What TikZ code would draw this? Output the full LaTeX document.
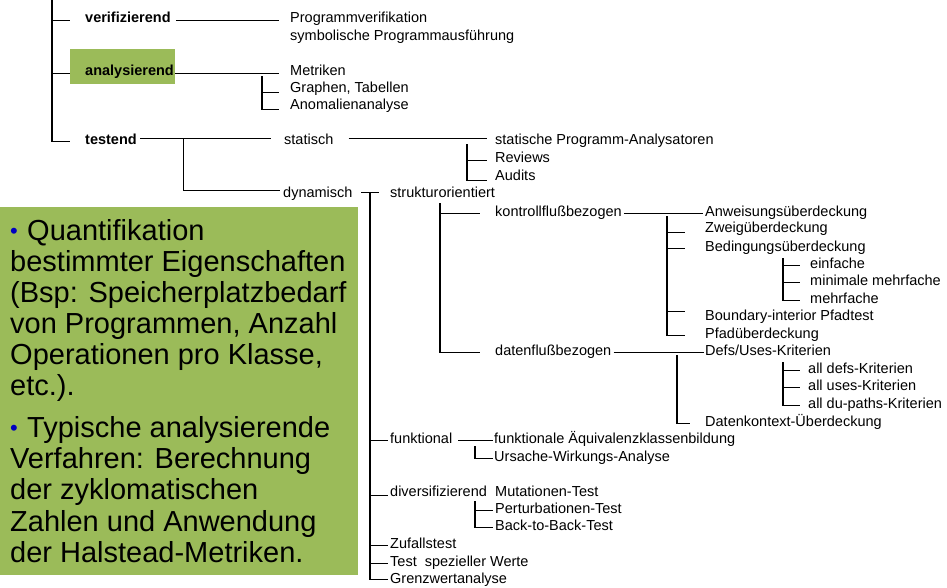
\documentclass[tikz,border=0pt]{standalone}
\usepackage{fontspec}
\setmainfont{Liberation Sans}[Ligatures=CommonOff]
\definecolor{boxgreen}{RGB}{155,187,89}
\definecolor{bulblue}{RGB}{0,0,192}
\newcommand\lblfont{\fontsize{14.5}{17}\selectfont}
\newcommand\bigfont{\fontsize{29}{31.2}\selectfont}
\newcommand\bul{\makebox[17pt][l]{\raisebox{1.5pt}{\color{bulblue}\fontsize{22}{22}\selectfont •}}}
\begin{document}
\begin{tikzpicture}[x=1pt,y=-1pt,
  lbl/.style={font=\lblfont, inner sep=0pt, anchor=base west},
  blbl/.style={lbl, font=\lblfont\bfseries},
  big/.style={font=\bigfont, inner sep=0pt, anchor=base west},
  conn/.style={line width=1.3pt, line cap=butt},
  hl/.style={fill=boxgreen, draw=none, inner sep=0pt, anchor=north west}]
\useasboundingbox (0,0) rectangle (947,588);
\fill[white] (0,0) rectangle (947,588);
% green highlight boxes
\node[hl, minimum width=358pt, minimum height=368pt] (gbox) at (0,207) {};
\node[hl, minimum width=105pt, minimum height=35pt] (abox) at (70,49) {};
% text of the green box
\node[big] (g1) at (10,240) {\bul Quantifikation};
\node[big] (g2) at (10,271) {bestimmter Eigenschaften};
\node[big] (g3) at (10,302) {(Bsp: Speicherplatzbedarf};
\node[big] (g4) at (10,333) {von Programmen, Anzahl};
\node[big] (g5) at (10,364) {Operationen pro Klasse,};
\node[big] (g6) at (10,395) {etc.).};
\node[big] (g7) at (10,437) {\bul Typische analysierende};
\node[big] (g8) at (10,468) {Verfahren: Berechnung};
\node[big] (g9) at (10,499) {der zyklomatischen};
\node[big] (g10) at (10,531) {Zahlen und Anwendung};
\node[big] (g11) at (10,562) {der Halstead-Metriken.};
% level 1
\node[blbl] (verif) at (85,23) {verifizierend};
\node[blbl] (analys) at (85,76) {analysierend};
\node[blbl] (testend) at (85,145) {testend};
% level 2
\node[lbl] (progv) at (290,23) {Programmverifikation};
\node[lbl] (symb) at (290,41) {symbolische Programmausführung};
\node[lbl] (metr) at (290,76) {Metriken};
\node[lbl] (graph) at (290,93) {Graphen, Tabellen};
\node[lbl] (anom) at (290,110) {Anomalienanalyse};
\node[lbl] (stat) at (284,145) {statisch};
\node[lbl] (dyn) at (283,197) {dynamisch};
% statisch children
\node[lbl] (spa) at (495,145) {statische Programm-Analysatoren};
\node[lbl] (rev) at (495,163) {Reviews};
\node[lbl] (aud) at (495,181) {Audits};
% dynamisch children
\node[lbl] (struk) at (390,197) {strukturorientiert};
\node[lbl] (kon) at (495,216) {kontrollflußbezogen};
\node[lbl] (dat) at (495,355) {datenflußbezogen};
\node[lbl] (anw) at (705,216) {Anweisungsüberdeckung};
\node[lbl] (zw) at (705,233) {Zweigüberdeckung};
\node[lbl] (bed) at (705,251) {Bedingungsüberdeckung};
\node[lbl] (einf) at (810,268) {einfache};
\node[lbl] (minm) at (810,285) {minimale mehrfache};
\node[lbl] (mehr) at (810,303) {mehrfache};
\node[lbl] (bound) at (705,320) {Boundary-interior Pfadtest};
\node[lbl] (pfad) at (705,338) {Pfadüberdeckung};
\node[lbl] (defs) at (705,355) {Defs/Uses-Kriterien};
\node[lbl] (alld) at (808,373) {all defs-Kriterien};
\node[lbl] (allu) at (808,390) {all uses-Kriterien};
\node[lbl] (alldu) at (808,408) {all du-paths-Kriterien};
\node[lbl] (dk) at (705,426) {Datenkontext-Überdeckung};
\node[lbl] (funk) at (390,443) {funktional};
\node[lbl] (faq) at (494,443) {funktionale Äquivalenzklassenbildung};
\node[lbl] (urs) at (494,461) {Ursache-Wirkungs-Analyse};
\node[lbl] (div) at (390,496) {diversifizierend};
\node[lbl] (mut) at (495,496) {Mutationen-Test};
\node[lbl] (pert) at (495,513) {Perturbationen-Test};
\node[lbl] (b2b) at (495,530) {Back-to-Back-Test};
\node[lbl] (zuf) at (390,548) {Zufallstest};
\node[lbl] (tsw) at (390,566) {Test\ \ spezieller Werte};
\node[lbl] (grenz) at (390,583) {Grenzwertanalyse};
% ---- connectors ----
\coordinate (trunktop) at (52,0);
\draw[conn] (trunktop) |- ([xshift=-15pt,yshift=1pt]testend.mid west);
\draw[conn] ([xshift=-33pt]verif.mid west) -- ([xshift=-15pt]verif.mid west);
\draw[conn] ([xshift=-33pt]analys.mid west) -- ([xshift=-15pt]analys.mid west);
% verifizierend
\draw[conn] ([xshift=5pt]verif.mid east) -- ([xshift=-11pt]progv.mid west);
% analysierend
\draw[conn] ([xshift=1pt]analys.mid east) -- ([xshift=-11pt]metr.mid west);
\draw[conn] ([xshift=-28pt,yshift=-3pt]metr.mid west) |- ([xshift=-11pt,yshift=-2pt]anom.mid west);
\draw[conn] ([xshift=-28pt,yshift=-2pt]graph.mid west) -- ([xshift=-11pt,yshift=-2pt]graph.mid west);
% testend
\draw[conn] ([xshift=3.5pt,yshift=4pt]testend.mid east) -- ([xshift=-13pt,yshift=4pt]stat.mid west);
\draw[conn] ([xshift=46.5pt,yshift=4pt]testend.mid east) |- ([xshift=-3pt,yshift=4pt]dyn.mid west);
% statisch
\draw[conn] ([xshift=15pt,yshift=4pt]stat.mid east) -- ([xshift=-8pt,yshift=4pt]spa.mid west);
\draw[conn] ([xshift=-28pt,yshift=-2pt]spa.mid west) |- ([xshift=-8pt,yshift=-2pt]aud.mid west);
\draw[conn] ([xshift=-28pt]rev.mid west) -- ([xshift=-8pt]rev.mid west);
% dynamisch
\draw[conn] ([xshift=8.5pt,yshift=2pt]dyn.mid east) -- ([xshift=-11pt,yshift=2pt]struk.mid west);
\draw[conn] ([xshift=-20pt,yshift=2pt]struk.mid west) |- ([xshift=-2pt,yshift=1pt]grenz.mid west);
% strukturorientiert
\draw[conn] ([xshift=50pt,yshift=-9pt]struk.mid west) |- ([xshift=-15pt]dat.mid west);
\draw[conn] ([xshift=-55pt]kon.mid west) -- ([xshift=-15pt]kon.mid west);
% kontrollflussbezogen
\draw[conn] ([xshift=2pt]kon.mid east) -- ([xshift=-2pt]anw.mid west);
\draw[conn] ([xshift=-38pt,yshift=-3pt]anw.mid west) |- ([xshift=-20pt]pfad.mid west);
\draw[conn] ([xshift=-38pt,yshift=-2pt]zw.mid west) -- ([xshift=-20pt,yshift=-2pt]zw.mid west);
\draw[conn] ([xshift=-38pt]bed.mid west) -- ([xshift=-20pt]bed.mid west);
\draw[conn] ([xshift=-38pt,yshift=6pt]bound.mid west) -- ([xshift=-20pt,yshift=6pt]bound.mid west);
% Bedingungsueberdeckung
\draw[conn] ([xshift=-27pt,yshift=7pt]einf.mid west) |- ([xshift=-10pt]mehr.mid west);
\draw[conn] ([xshift=-27pt]einf.mid west) -- ([xshift=-10pt]einf.mid west);
\draw[conn] ([xshift=-27pt]minm.mid west) -- ([xshift=-10pt]minm.mid west);
% datenflussbezogen
\draw[conn] ([xshift=2pt]dat.mid east) -- ([xshift=-1pt]defs.mid west);
\draw[conn] ([xshift=-28pt,yshift=-3pt]defs.mid west) |- ([xshift=-15pt]dk.mid west);
\draw[conn] ([xshift=-25pt,yshift=8pt]alld.mid west) |- ([xshift=-8pt]alldu.mid west);
\draw[conn] ([xshift=-25pt]alld.mid west) -- ([xshift=-8pt]alld.mid west);
\draw[conn] ([xshift=-25pt]allu.mid west) -- ([xshift=-8pt]allu.mid west);
% funktional
\draw[conn] ([xshift=-20pt]funk.mid west) -- ([xshift=-2pt]funk.mid west);
\draw[conn] ([xshift=6pt]funk.mid east) -- ([xshift=-1pt]faq.mid west);
\draw[conn] ([xshift=-19pt,yshift=-6pt]faq.mid west) |- ([xshift=-1pt]urs.mid west);
% diversifizierend
\draw[conn] ([xshift=-20pt,yshift=-2pt]div.mid west) -- ([xshift=-2pt,yshift=-2pt]div.mid west);
\draw[conn] ([xshift=-20pt,yshift=-8pt]mut.mid west) |- ([xshift=-2pt]b2b.mid west);
\draw[conn] ([xshift=-20pt]pert.mid west) -- ([xshift=-2pt]pert.mid west);
% remaining tests
\draw[conn] ([xshift=-20pt]zuf.mid west) -- ([xshift=-2pt]zuf.mid west);
\draw[conn] ([xshift=-20pt]tsw.mid west) -- ([xshift=-2pt]tsw.mid west);
\end{tikzpicture}
\end{document}
